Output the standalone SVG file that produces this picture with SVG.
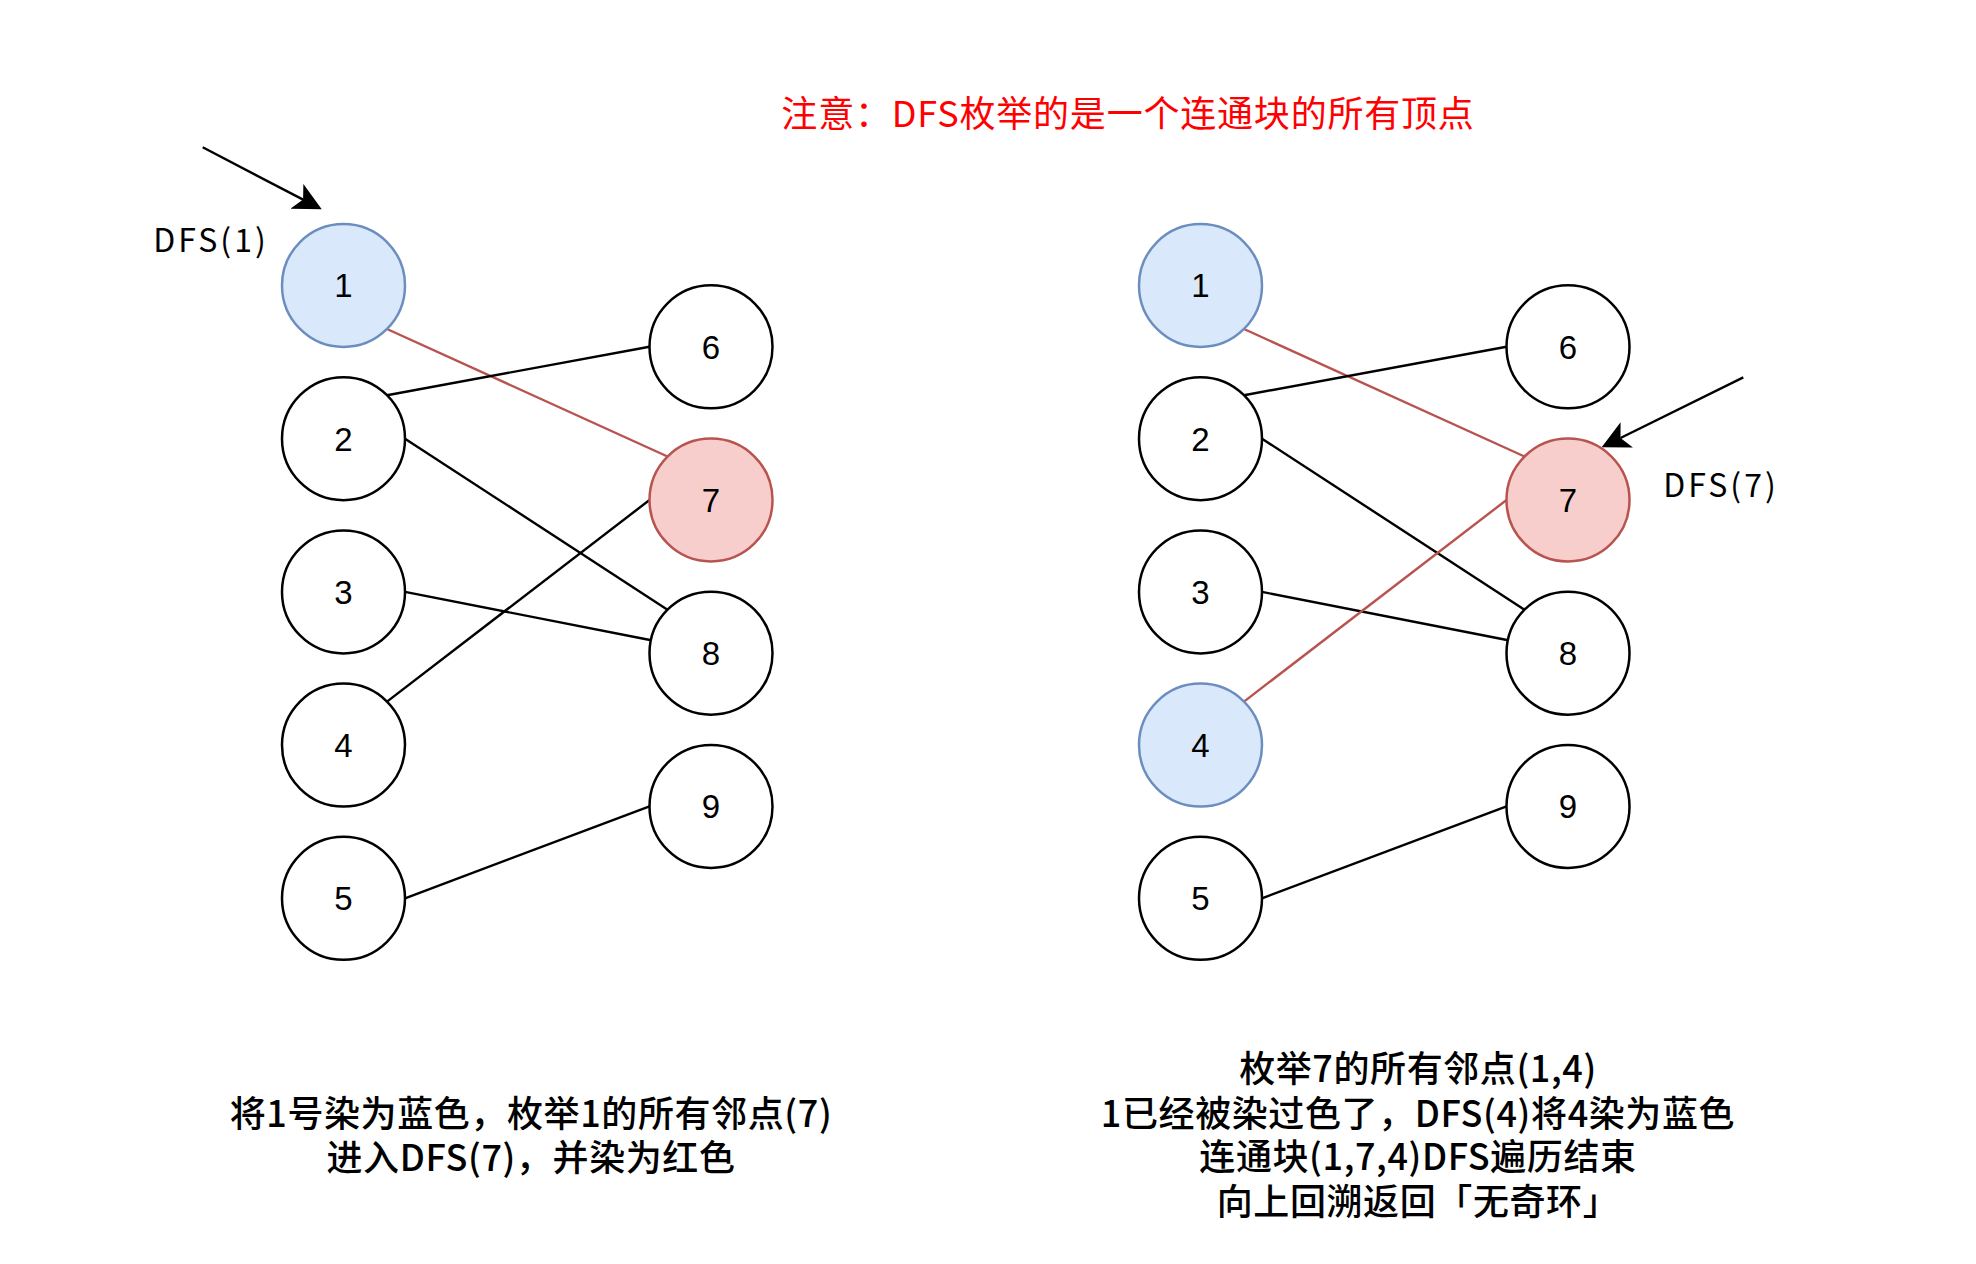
<svg xmlns="http://www.w3.org/2000/svg" width="1976" height="1264" viewBox="0 0 1976 1264">
<style>
text{font-family:"Noto Sans CJK SC","Liberation Sans",sans-serif;}
.n{fill:#ffffff;stroke:#000000;stroke-width:2.5;}
.b{fill:#dae8fc;stroke:#6c8ebf;stroke-width:2.5;}
.r{fill:#f8cecc;stroke:#b85450;stroke-width:2.5;}
.lbl{font-family:"Liberation Sans",Arial,sans-serif;font-size:33px;text-anchor:middle;fill:#000000;}
.e{stroke:#000000;stroke-width:2.4;fill:none;}
.er{stroke:#b85450;stroke-width:2.4;fill:none;}
.cap{font-size:36px;text-anchor:middle;fill:#000000;font-weight:500;letter-spacing:0.6px;}
.title{font-size:36px;text-anchor:middle;fill:#ff0000;letter-spacing:0.8px;}
.dfs{font-size:32px;text-anchor:middle;fill:#000000;letter-spacing:3px;}
</style>
<defs>
<marker id="arr" markerUnits="userSpaceOnUse" viewBox="0 0 28 28" markerWidth="28" markerHeight="28" refX="7" refY="14" orient="auto">
<path d="M0,0 L28,14 L0,28 L7,14 Z" fill="#000000"/>
</marker>
</defs>
<rect x="0" y="0" width="1976" height="1264" fill="#ffffff"/>
<g id="connectors">
<line class="er" x1="387" y1="329" x2="667.5" y2="456.5"/>
<line class="e" x1="387" y1="395.2" x2="649.5" y2="346.8"/>
<line class="e" x1="405" y1="438.7" x2="667.5" y2="609.7"/>
<line class="e" x1="405" y1="591.9" x2="650" y2="640"/>
<line class="e" x1="387" y1="701.6" x2="649.5" y2="500"/>
<line class="e" x1="405" y1="898.3" x2="649.5" y2="806.4"/>
<line class="er" x1="1244" y1="329" x2="1524.5" y2="456.5"/>
<line class="e" x1="1244" y1="395.2" x2="1506.5" y2="346.8"/>
<line class="e" x1="1262" y1="438.7" x2="1524.5" y2="609.7"/>
<line class="e" x1="1262" y1="591.9" x2="1507" y2="640"/>
<line class="er" x1="1244" y1="701.6" x2="1506.5" y2="500"/>
<line class="e" x1="1262" y1="898.3" x2="1506.5" y2="806.4"/>
<path class="e" d="M202.7,147.3 L303.1,199.6" marker-end="url(#arr)"/>
<path class="e" d="M1743.3,377.3 L1620.5,438" marker-end="url(#arr)"/>
</g>
<g id="L1"><circle class="b" cx="343.5" cy="285.5" r="61.5"/><text class="lbl" x="343.5" y="297.3">1</text></g>
<g id="L2"><circle class="n" cx="343.5" cy="438.7" r="61.5"/><text class="lbl" x="343.5" y="450.5">2</text></g>
<g id="L3"><circle class="n" cx="343.5" cy="591.9" r="61.5"/><text class="lbl" x="343.5" y="603.7">3</text></g>
<g id="L4"><circle class="n" cx="343.5" cy="745.1" r="61.5"/><text class="lbl" x="343.5" y="756.9">4</text></g>
<g id="L5"><circle class="n" cx="343.5" cy="898.3" r="61.5"/><text class="lbl" x="343.5" y="910.1">5</text></g>
<g id="L6"><circle class="n" cx="711" cy="346.8" r="61.5"/><text class="lbl" x="711" y="358.6">6</text></g>
<g id="L7"><circle class="r" cx="711" cy="500" r="61.5"/><text class="lbl" x="711" y="511.8">7</text></g>
<g id="L8"><circle class="n" cx="711" cy="653.2" r="61.5"/><text class="lbl" x="711" y="665">8</text></g>
<g id="L9"><circle class="n" cx="711" cy="806.4" r="61.5"/><text class="lbl" x="711" y="818.2">9</text></g>
<g id="R1"><circle class="b" cx="1200.5" cy="285.5" r="61.5"/><text class="lbl" x="1200.5" y="297.3">1</text></g>
<g id="R2"><circle class="n" cx="1200.5" cy="438.7" r="61.5"/><text class="lbl" x="1200.5" y="450.5">2</text></g>
<g id="R3"><circle class="n" cx="1200.5" cy="591.9" r="61.5"/><text class="lbl" x="1200.5" y="603.7">3</text></g>
<g id="R4"><circle class="b" cx="1200.5" cy="745.1" r="61.5"/><text class="lbl" x="1200.5" y="756.9">4</text></g>
<g id="R5"><circle class="n" cx="1200.5" cy="898.3" r="61.5"/><text class="lbl" x="1200.5" y="910.1">5</text></g>
<g id="R6"><circle class="n" cx="1568" cy="346.8" r="61.5"/><text class="lbl" x="1568" y="358.6">6</text></g>
<g id="R7"><circle class="r" cx="1568" cy="500" r="61.5"/><text class="lbl" x="1568" y="511.8">7</text></g>
<g id="R8"><circle class="n" cx="1568" cy="653.2" r="61.5"/><text class="lbl" x="1568" y="665">8</text></g>
<g id="R9"><circle class="n" cx="1568" cy="806.4" r="61.5"/><text class="lbl" x="1568" y="818.2">9</text></g>
<g id="labels">
<text class="title" x="1128" y="127">注意：DFS枚举的是一个连通块的所有顶点</text>
<text class="dfs" x="211" y="252">DFS(1)</text>
<text class="dfs" x="1721" y="497">DFS(7)</text>
<text class="cap" x="531" y="1127">将1号染为蓝色，枚举1的所有邻点(7)</text>
<text class="cap" x="531" y="1171">进入DFS(7)，并染为红色</text>
<text class="cap" x="1418" y="1082">枚举7的所有邻点(1,4)</text>
<text class="cap" x="1418" y="1127">1已经被染过色了，DFS(4)将4染为蓝色</text>
<text class="cap" x="1418" y="1170">连通块(1,7,4)DFS遍历结束</text>
<text class="cap" x="1418" y="1215">向上回溯返回「无奇环」</text>
</g>
</svg>
